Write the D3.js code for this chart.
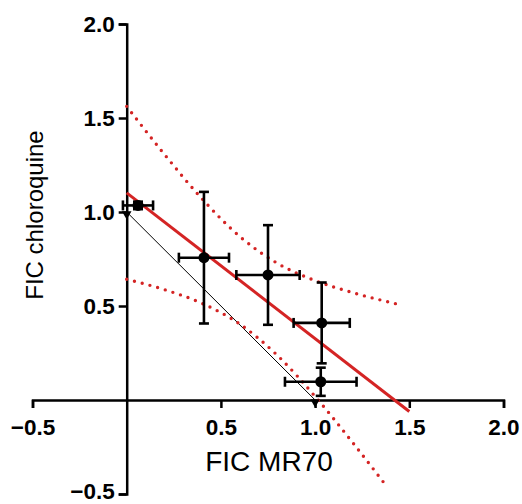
<!DOCTYPE html>
<html>
<head>
<meta charset="utf-8">
<script src="https://cdn.jsdelivr.net/npm/d3@7"></script>
<style>
  html, body { margin: 0; padding: 0; background: #fff; }
  svg { display: block; }
</style>
</head>
<body>
<svg id="chart" width="522" height="504"></svg>
<script>
// ---- data ----
const xMean = [0.06, 0.41, 0.75, 1.035, 1.03];
const yMean = [1.035, 0.757, 0.665, 0.41, 0.097];
const xErr  = [0.08, 0.133, 0.168, 0.149, 0.19];
const yErr  = [0.02, 0.35, 0.265, 0.215, 0.075];

const fitX = [0, 1.5];
const fitY = [1.102, -0.061];

const addX = [0, 1];
const addY = [1, 0];

const upperX = [0, 0.2, 0.4, 0.6, 0.8, 1.0, 1.2, 1.467];
const upperY = [1.562, 1.307, 1.070, 0.870, 0.727, 0.635, 0.571, 0.503];
const lowerX = [0, 0.2, 0.4, 0.6, 0.8, 1.0, 1.2, 1.384];
const lowerY = [0.642, 0.587, 0.514, 0.404, 0.237, 0.019, -0.227, -0.465];

const xTicks = [-0.5, 0, 0.5, 1.0, 1.5, 2.0];
const yTicks = [-0.5, 0, 0.5, 1.0, 1.5, 2.0];
const xTitle = "FIC MR70";
const yTitle = "FIC chloroquine";

// ---- drawing ----
const svg = d3.select("#chart");
const x = d3.scaleLinear().domain([-0.5, 2.0]).range([32.5, 503.5]);
const y = d3.scaleLinear().domain([-0.5, 2.0]).range([494, 24]);
const red = "#d42424";
const fmt = v => v === 0 ? "" : d3.format(".1f")(v);

// axes
const xAxis = svg.append("g")
  .attr("transform", `translate(0,${y(0)})`)
  .call(d3.axisBottom(x).tickValues(xTicks).tickFormat(fmt).tickSizeOuter(0).tickSize(8).tickPadding(11));
const yAxis = svg.append("g")
  .attr("transform", `translate(${x(0)},0)`)
  .call(d3.axisLeft(y).tickValues(yTicks).tickFormat(fmt).tickSizeOuter(0).tickSize(8).tickPadding(4));
[xAxis, yAxis].forEach(g => {
  g.select(".domain").attr("stroke", "#000").attr("stroke-width", 2.5);
  g.selectAll(".tick line").attr("stroke", "#000").attr("stroke-width", 2.5);
  g.selectAll(".tick text")
    .attr("fill", "#000")
    .style("font-family", "'Liberation Sans', Arial, sans-serif")
    .style("font-weight", "bold")
    .style("font-size", "22.5px");
});
// lowest y label nudged up slightly so it stays within the frame
yAxis.selectAll(".tick").filter(d => d === -0.5).select("text").attr("dy", "0.22em");
// remove the ticks at zero (hidden by the other axis)
xAxis.selectAll(".tick").filter(d => d === 0).select("line").remove();
yAxis.selectAll(".tick").filter(d => d === 0).select("line").remove();

// titles
svg.append("text")
  .attr("x", (x(0.5) + x(1.0)) / 2 + 1)
  .attr("y", 471)
  .attr("text-anchor", "middle")
  .style("font-family", "'Liberation Sans', Arial, sans-serif")
  .style("font-size", "28px")
  .text(xTitle);
svg.append("text")
  .attr("transform", "translate(43,215) rotate(-90)")
  .attr("text-anchor", "middle")
  .style("font-family", "'Liberation Sans', Arial, sans-serif")
  .style("font-size", "24px")
  .text(yTitle);

const line = d3.line().x(d => x(d[0])).y(d => y(d[1]));
const curve = d3.line().x(d => x(d[0])).y(d => y(d[1])).curve(d3.curveMonotoneX);

// additivity line
svg.append("path")
  .attr("d", line(addX.map((v, i) => [v, addY[i]])))
  .attr("fill", "none").attr("stroke", "#000").attr("stroke-width", 1);

// confidence bands (dotted)
[[upperX, upperY], [lowerX, lowerY]].forEach(([bx, by]) => {
  svg.append("path")
    .attr("d", curve(bx.map((v, i) => [v, by[i]])))
    .attr("fill", "none").attr("stroke", red)
    .attr("stroke-width", 3.4)
    .attr("stroke-linecap", "round")
    .attr("stroke-dasharray", "0 8");
});

// regression line
svg.append("path")
  .attr("d", line(fitX.map((v, i) => [v, fitY[i]])))
  .attr("fill", "none").attr("stroke", red).attr("stroke-width", 3);

// additivity end markers
svg.selectAll(".addm").data(addX.map((v, i) => [v, addY[i]])).join("path")
  .attr("class", "addm")
  .attr("d", d3.symbol().type(d3.symbolTriangle).size(40))
  .attr("transform", d => `translate(${x(d[0])},${y(d[1]) + 2}) rotate(180)`)
  .attr("fill", "#000");

// error bars
const cap = 5;
const pts = xMean.map((v, i) => ({x: v, y: yMean[i], ex: xErr[i], ey: yErr[i]}));
const eb = svg.append("g").attr("stroke", "#000").attr("stroke-width", 2.6).attr("fill", "none");
pts.forEach(p => {
  const cx = x(p.x), cy = y(p.y);
  const x1 = x(p.x - p.ex), x2 = x(p.x + p.ex);
  const y1 = y(p.y + p.ey), y2 = y(p.y - p.ey);
  eb.append("line").attr("x1", x1).attr("x2", x2).attr("y1", cy).attr("y2", cy);
  eb.append("line").attr("x1", x1).attr("x2", x1).attr("y1", cy - cap).attr("y2", cy + cap);
  eb.append("line").attr("x1", x2).attr("x2", x2).attr("y1", cy - cap).attr("y2", cy + cap);
  eb.append("line").attr("x1", cx).attr("x2", cx).attr("y1", y1).attr("y2", y2);
  eb.append("line").attr("x1", cx - cap).attr("x2", cx + cap).attr("y1", y1).attr("y2", y1);
  eb.append("line").attr("x1", cx - cap).attr("x2", cx + cap).attr("y1", y2).attr("y2", y2);
});

// points
svg.selectAll(".pt").data(pts).join("circle")
  .attr("class", "pt")
  .attr("cx", d => x(d.x)).attr("cy", d => y(d.y))
  .attr("r", 5.5).attr("fill", "#000");
</script>
</body>
</html>
